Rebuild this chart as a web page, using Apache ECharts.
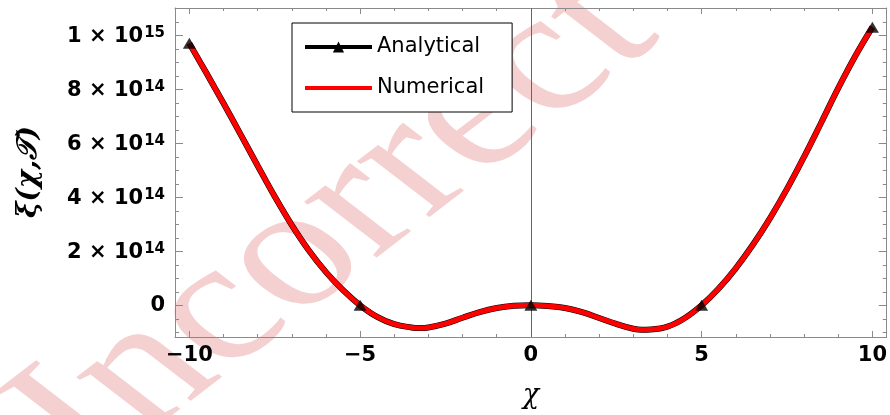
<!DOCTYPE html>
<html>
<head>
<meta charset="utf-8">
<script src="https://cdn.jsdelivr.net/npm/echarts@6/dist/echarts.min.js"></script>
<style>html,body{margin:0;padding:0;background:#fff}#c{width:890px;height:415px}</style>
</head>
<body>
<div id="c"></div>
<script>
// ---- data ----
const xValues = [-10,-9.5,-9,-8.5,-8,-7.5,-7,-6.5,-6,-5.5,-5,-4.5,-4,-3.5,-3.25,-3,-2.5,-2,-1.5,-1,-0.5,0,
                 0.5,1,1.5,2,2.5,3,3.25,3.5,4,4.5,5,5.5,6,6.5,7,7.5,8,8.5,9,9.5,10];
const numericalValues = [9.70e14,8.60e14,7.48e14,6.33e14,5.17e14,4.03e14,2.97e14,2.03e14,1.23e14,0.56e14,0,
                 -0.43e14,-0.70e14,-0.82e14,-0.84e14,-0.82e14,-0.68e14,-0.46e14,-0.25e14,-0.10e14,-0.02e14,0,
                 -0.03e14,-0.10e14,-0.25e14,-0.47e14,-0.69e14,-0.87e14,-0.91e14,-0.90e14,-0.79e14,-0.48e14,0,
                 0.62e14,1.37e14,2.24e14,3.22e14,4.31e14,5.50e14,6.76e14,8.04e14,9.23e14,10.30e14];
const analyticalValues = [9.70e14,8.60e14,7.48e14,6.33e14,5.17e14,4.03e14,2.97e14,2.03e14,1.23e14,0.56e14,0,
                 -0.43e14,-0.70e14,-0.82e14,-0.84e14,-0.82e14,-0.68e14,-0.46e14,-0.25e14,-0.10e14,-0.02e14,0,
                 -0.03e14,-0.10e14,-0.25e14,-0.47e14,-0.69e14,-0.87e14,-0.91e14,-0.90e14,-0.79e14,-0.48e14,0,
                 0.62e14,1.37e14,2.24e14,3.22e14,4.31e14,5.50e14,6.76e14,8.04e14,9.23e14,10.30e14];
const markerX = [-10,-5,0,5,10];
const markerY = [9.70e14,0,0,0,10.30e14];
const xMajorTicks = [-10,-5,0,5,10];
const xMinorTicks = [-9,-8,-7,-6,-4,-3,-2,-1,1,2,3,4,6,7,8,9];
const yMajorTicks = [0,2e14,4e14,6e14,8e14,1e15];
const yMinorTicks = [-1e14,-0.5e14,0.5e14,1e14,1.5e14,2.5e14,3e14,3.5e14,4.5e14,5e14,5.5e14,6.5e14,7e14,7.5e14,8.5e14,9e14,9.5e14,10.5e14];
const seriesNames = ['Analytical','Numerical'];
const xTitle = 'χ';
const yTitle = 'ξ(χ,𝒯)';
const watermark = 'Incorrect';

const X_MIN = -10.42, X_MAX = 10.42, Y_MIN = -1.174e14, Y_MAX = 1.101e15;
const FRAME = '#8a8a8a';
const LBL = 'DejaVu Sans';

function pairs(xs, ys){ return xs.map((x,i)=>[x, ys[i]]); }
function xFmt(v){ return v < 0 ? '\u2212' + Math.abs(v) : String(v); }
function yFmt(v){
  if (v === 0) return '0';
  const e = Math.floor(Math.log10(Math.abs(v)) + 1e-9);
  const m = Math.round(v / Math.pow(10, e));
  return '{m|' + m + ' \u00d7 10}{e|' + e + '}';
}

function xAxisDef(pos, ticks, len, showLine, showLabel){
  return {
    type:'value', position:pos, min:X_MIN, max:X_MAX,
    axisLine:{show:showLine, onZero:false, lineStyle:{color:FRAME, width:1}},
    axisTick:{show:true, inside:true, length:len, customValues:ticks, lineStyle:{color:FRAME, width:1}},
    axisLabel:{show:showLabel, customValues:ticks, formatter:xFmt, margin:8,
      fontFamily:LBL, fontWeight:'bold', fontSize:21, color:'#000'},
    splitLine:{show:false}
  };
}
function yAxisDef(pos, ticks, len, showLine, showLabel){
  return {
    type:'value', position:pos, min:Y_MIN, max:Y_MAX,
    axisLine:{show:showLine, onZero:false, lineStyle:{color:FRAME, width:1}},
    axisTick:{show:true, inside:true, length:len, customValues:ticks, lineStyle:{color:FRAME, width:1}},
    axisLabel:{show:showLabel, customValues:ticks, formatter:yFmt, margin:10,
      fontFamily:LBL, fontWeight:'bold', fontSize:21, color:'#000',
      rich:{
        m:{fontFamily:LBL, fontWeight:'bold', fontSize:21, color:'#000', lineHeight:24, verticalAlign:'bottom', padding:[6,0,0,0]},
        e:{fontFamily:LBL, fontWeight:'bold', fontSize:15, color:'#000', lineHeight:15, verticalAlign:'top', padding:[2,0,0,1]}
      }},
    splitLine:{show:false}
  };
}

const chart = echarts.init(document.getElementById('c'), null, {renderer:'canvas'});
chart.setOption({
  animation:false,
  backgroundColor:'#fff',
  grid:{left:175, right:2, top:8, bottom:78, containLabel:false},
  xAxis:[
    xAxisDef('bottom', xMajorTicks, 6, true, true),
    xAxisDef('bottom', xMinorTicks, 3, false, false),
    xAxisDef('top', xMajorTicks, 6, true, false),
    xAxisDef('top', xMinorTicks, 3, false, false)
  ],
  yAxis:[
    yAxisDef('left', yMajorTicks, 8, true, true),
    yAxisDef('left', yMinorTicks, 4, false, false),
    yAxisDef('right', yMajorTicks, 8, true, false),
    yAxisDef('right', yMinorTicks, 4, false, false)
  ],
  legend:{
    data:[{name:seriesNames[0]}, {name:seriesNames[1], icon:'path://M0,0 L67,0 L67,4 L0,4 Z'}],
    orient:'vertical', left:292, top:23,
    padding:[13,28,13,11], itemGap:19, itemWidth:67, itemHeight:14,
    borderColor:'#000', borderWidth:1, backgroundColor:'#fff',
    textStyle:{fontFamily:LBL, fontSize:21, color:'#000', lineHeight:22},
    lineStyle:{width:4}
  },
  graphic:[
    {type:'group', z:-10, silent:true, scaleX:1.3, children:[
      {type:'text', x:100, y:505, rotation:0.785, z:-10,
       style:{text:watermark, font:'172px "Liberation Serif"', fill:'#f4d0d0', textAlign:'left', textVerticalAlign:'bottom'}}
    ]},
    {type:'text', x:29, y:172, rotation:Math.PI/2, z:100,
     style:{text:yTitle, font:'italic bold 28px "DejaVu Serif"', fill:'#000', textAlign:'center', textVerticalAlign:'middle'}},
    {type:'text', x:531, y:396, z:100,
     style:{text:xTitle, font:'italic 27px "DejaVu Serif"', fill:'#000', textAlign:'center', textVerticalAlign:'middle'}}
  ],
  series:[
    {name:seriesNames[0], type:'line', xAxisIndex:0, yAxisIndex:0, z:2,
     data:pairs(xValues, analyticalValues), smooth:0.4, symbol:'triangle', symbolSize:11, showSymbol:false,
     itemStyle:{color:'#000'}, lineStyle:{color:'#000', width:6},
     markLine:{silent:true, symbol:['none','none'], label:{show:false},
       lineStyle:{color:'#666', width:1, type:'solid'}, data:[{xAxis:0}]}},
    {name:seriesNames[1], type:'line', xAxisIndex:0, yAxisIndex:0, z:3,
     data:pairs(xValues, numericalValues), smooth:0.4, symbol:'none', showSymbol:false,
     itemStyle:{color:'#ff0000'}, lineStyle:{color:'#ff0000', width:5}},
    {name:seriesNames[0], type:'scatter', xAxisIndex:0, yAxisIndex:0, z:5,
     data:pairs(markerX, markerY), symbol:'triangle', symbolSize:[13,11], itemStyle:{color:'#000'}}
  ]
});
</script>
</body>
</html>
